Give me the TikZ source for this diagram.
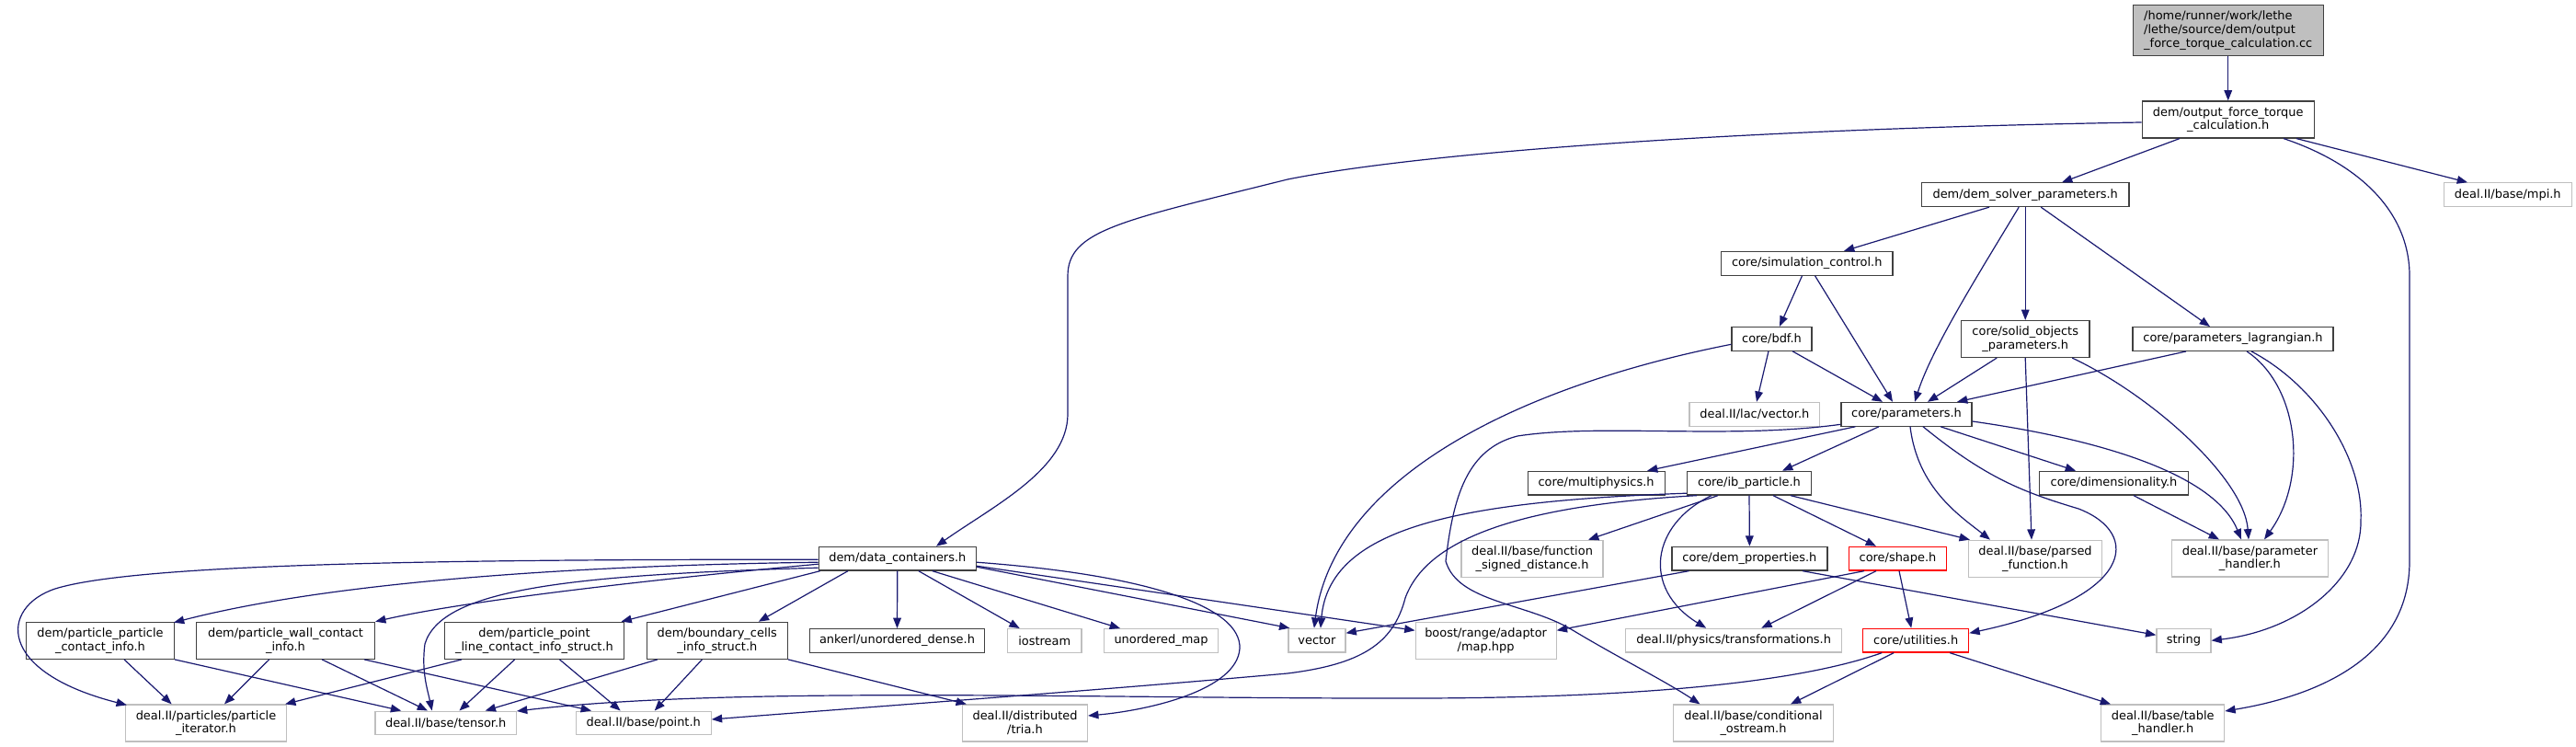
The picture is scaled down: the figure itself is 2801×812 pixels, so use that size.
\documentclass[tikz,border=0pt]{standalone}
\usepackage{fontspec}
\setmainfont{DejaVu Sans}
\usetikzlibrary{arrows.meta,calc}
\definecolor{edgec}{HTML}{191970}
\definecolor{dk}{HTML}{404040}
\definecolor{lt}{HTML}{BFBFBF}
\tikzset{
 nd/.style={draw=dk, line width=0.9pt, fill=white, inner sep=0pt, align=center, font=\fontsize{9.7}{11}\selectfont, text=black, minimum height=19.3pt},
 ext/.style={nd, draw=lt},
 trunc/.style={nd, draw=red},
 rootnd/.style={nd, fill=lt, align=left},
 two/.style={minimum height=30pt},
 ed/.style={draw=edgec, line width=0.9pt, -{Triangle[length=8.5pt,width=6.5pt]}},
}
\begin{document}
\begin{tikzpicture}[x=0.75pt,y=-0.75pt]
\fill[white] (0,0) rectangle (2801,812);
\path[use as bounding box] (0,0) rectangle (2801,812);

% nodes
\node[rootnd, minimum width=155.25pt, minimum height=41.25pt] (root) at (2422.7,33.2) {/home/runner/work/lethe\\/lethe/source/dem/output\\\_force\_torque\_calculation.cc};
\node[nd, two, minimum width=140.25pt] (oftc) at (2422.7,130) {dem/output\_force\_torque\\\_calculation.h};
\node[ext, minimum width=104.25pt] (mpi) at (2726.8,211.7) {deal.II/base/mpi.h};
\node[nd, minimum width=169.2pt] (solver) at (2202.2,211.7) {dem/dem\_solver\_parameters.h};
\node[nd, minimum width=140pt] (simctl) at (1964.7,286.3) {core/simulation\_control.h};
\node[nd, minimum width=65.25pt] (bdf) at (1926.5,368.3) {core/bdf.h};
\node[nd, two, minimum width=104.6pt] (solid) at (2202.2,368.5) {core/solid\_objects\\\_parameters.h};
\node[nd, minimum width=163.5pt] (lagr) at (2428,368.5) {core/parameters\_lagrangian.h};
\node[nd, minimum width=106.5pt] (params) at (2073,450.3) {core/parameters.h};
\node[ext, minimum width=106.1pt] (lacvec) at (1907.8,450.3) {deal.II/lac/vector.h};
\node[nd, minimum width=111.75pt] (multiphys) at (1735.6,525.2) {core/multiphysics.h};
\node[nd, minimum width=101.25pt] (ibp) at (1902,525.2) {core/ib\_particle.h};
\node[nd, minimum width=121.3pt] (dimen) at (2298.5,525.2) {core/dimensionality.h};
\node[ext, two, minimum width=115.5pt] (fsd) at (1666,607.3) {deal.II/base/function\\\_signed\_distance.h};
\node[nd, minimum width=126.75pt] (demprop) at (1902.4,607.2) {core/dem\_properties.h};
\node[trunc, minimum width=79.5pt] (shape) at (2063.5,607.2) {core/shape.h};
\node[ext, two, minimum width=108.75pt] (parsed) at (2213,607.3) {deal.II/base/parsed\\\_function.h};
\node[ext, two, minimum width=127.5pt] (paramh) at (2446.4,607) {deal.II/base/parameter\\\_handler.h};
\node[ext, minimum width=46.5pt] (vector) at (1431.9,696.2) {vector};
\node[ext, two, minimum width=114.75pt] (boost) at (1615.6,696.3) {boost/range/adaptor\\/map.hpp};
\node[ext, minimum width=176.25pt] (transf) at (1885.2,696.2) {deal.II/physics/transformations.h};
\node[trunc, minimum width=86.25pt] (util) at (2083.2,696.2) {core/utilities.h};
\node[ext, minimum width=44.25pt] (string) at (2374.4,696.3) {string};
\node[ext, two, minimum width=130.1pt] (condos) at (1906.5,786) {deal.II/base/conditional\\\_ostream.h};
\node[ext, two, minimum width=100.5pt] (table) at (2351.7,786) {deal.II/base/table\\\_handler.h};
\node[nd, minimum width=128.25pt] (datac) at (975.8,607.2) {dem/data\_containers.h};
\node[nd, two, minimum width=120.5pt] (pp) at (109,696.3) {dem/particle\_particle\\\_contact\_info.h};
\node[nd, two, minimum width=145.5pt] (pw) at (310.5,696.3) {dem/particle\_wall\_contact\\\_info.h};
\node[nd, two, minimum width=146.8pt] (ppl) at (581,696.3) {dem/particle\_point\\\_line\_contact\_info\_struct.h};
\node[nd, two, minimum width=114.75pt] (bc) at (779.8,696.3) {dem/boundary\_cells\\\_info\_struct.h};
\node[nd, minimum width=142.5pt] (ankerl) at (975.5,696.5) {ankerl/unordered\_dense.h};
\node[ext, minimum width=60.5pt] (iostream) at (1135.7,696.5) {iostream};
\node[ext, minimum width=93pt] (umap) at (1262.5,696.5) {unordered\_map};
\node[ext, two, minimum width=131.25pt] (piter) at (224,786) {deal.II/particles/particle\\\_iterator.h};
\node[ext, minimum width=115pt] (tensor) at (484.7,786) {deal.II/base/tensor.h};
\node[ext, minimum width=110.25pt] (point) at (699.7,786) {deal.II/base/point.h};
\node[ext, two, minimum width=102pt] (tria) at (1114.5,786) {deal.II/distributed\\/tria.h};

% edges
\draw[ed] (root.south) -- (oftc.north);
\draw[ed] ($(oftc.south)+(-52.7,0)$) -- ($(solver.north)+(39.8,0)$);
\draw[ed] ($(oftc.south)+(74.3,0)$) -- ($(mpi.north)+(-43.8,0)$);
\draw[ed] ($(oftc.south)+(60.3,0)$) .. controls (2565,178) and (2620,230) .. (2620,300) -- (2620,610) .. controls (2620,720) and (2510,758) .. ($(table.east)+(0,-13)$);
\draw[ed] ($(oftc.west)+(0,3)$) .. controls (1900,140) and (1550,165) .. (1400,195) .. controls (1220,240) and (1161,250) .. (1161,300) -- (1161,450) .. controls (1161,510) and (1080,550) .. ($(datac.north)+(42.2,0)$);
\draw[ed] ($(solver.south)+(-39.2,0)$) -- ($(simctl.north)+(40.3,0)$);
\draw[ed] ($(solver.south)+(-7,0)$) .. controls (2150,300) and (2100,380) .. ($(params.north)+(9,0)$);
\draw[ed] (solver.south) -- (solid.north);
\draw[ed] ($(solver.south)+(17,0)$) -- ($(lagr.north)+(-25,0)$);
\draw[ed] ($(simctl.south)+(-5.2,0)$) -- ($(bdf.north)+(8.5,0)$);
\draw[ed] ($(simctl.south)+(8.8,0)$) -- ($(params.north)+(-15,0)$);
\draw[ed] ($(bdf.south)+(-3.5,0)$) -- ($(lacvec.north)+(2.2,0)$);
\draw[ed] ($(bdf.south)+(22.5,0)$) -- ($(params.north)+(-26,0)$);
\draw[ed] ($(bdf.west)+(0,6)$) .. controls (1650,420) and (1450,520) .. ($(vector.north)+(-3,0)$);
\draw[ed] ($(solid.south)+(-31,0)$) -- ($(params.north)+(23,0)$);
\draw[ed] (solid.south) -- ($(parsed.north)+(-4,0)$);
\draw[ed] ($(solid.south)+(51,0)$) .. controls (2340,430) and (2440,520) .. ($(paramh.north)+(-1.4,0)$);
\draw[ed] ($(lagr.south)+(-51,0)$) -- ($(params.north)+(55,0)$);
\draw[ed] ($(lagr.south)+(15,0)$) .. controls (2500,420) and (2510,520) .. ($(paramh.north)+(15.6,0)$);
\draw[ed] ($(lagr.south)+(20,0)$) .. controls (2520,420) and (2570,500) .. (2567,566) .. controls (2568,630) and (2500,685) .. (string.east);
\draw[ed] ($(params.south)+(-55.5,0)$) -- ($(multiphys.north)+(55.4,0)$);
\draw[ed] ($(params.south)+(-30,0)$) -- ($(ibp.north)+(36,0)$);
\draw[ed] ($(params.south)+(4,0)$) .. controls (2085,530) and (2130,560) .. ($(parsed.north)+(-49,0)$);
\draw[ed] ($(params.south)+(18,0)$) .. controls (2160,520) and (2200,535) .. (2260,553) .. controls (2330,580) and (2320,650) .. ($(util.east)+(0,-8)$);
\draw[ed] ($(params.south)+(37,0)$) -- ($(dimen.north)+(-41.5,0)$);
\draw[ed] ($(params.east)+(0,7.7)$) .. controls (2300,480) and (2410,520) .. ($(paramh.north)+(-9.4,0)$);
\draw[ed] ($(params.west)+(0,11)$) .. controls (1880,478) and (1740,460) .. (1650,474) .. controls (1595,488) and (1580,540) .. (1572,610) .. controls (1585,655) and (1660,655) .. (1710,685) .. controls (1760,715) and (1810,740) .. ($(condos.north)+(-58,0)$);
\draw[ed] ($(dimen.south)+(21.5,0)$) -- ($(paramh.north)+(-33.4,0)$);
\draw[ed] ($(ibp.west)+(0,11)$) .. controls (1580,545) and (1445,575) .. ($(vector.north)+(4,0)$);
\draw[ed] ($(ibp.south)+(-57,0)$) .. controls (1640,550) and (1550,590) .. (1528,650) .. controls (1515,700) and (1480,722) .. (1400,732) .. controls (1200,750) and (900,772) .. ($(point.east)+(0,-4)$);
\draw[ed] ($(ibp.south)+(-34,0)$) -- ($(fsd.north)+(61,0)$);
\draw[ed] ($(ibp.south)+(-41,0)$) .. controls (1795,570) and (1785,640) .. ($(transf.north)+(-30,0)$);
\draw[ed] (ibp.south) -- (demprop.north);
\draw[ed] ($(ibp.south)+(26,0)$) -- ($(shape.north)+(-23.5,0)$);
\draw[ed] ($(ibp.south)+(45,0)$) -- ($(parsed.north west)+(2,0)$);
\draw[ed] ($(demprop.south)+(-66,0)$) -- ($(vector.east)+(0,-8)$);
\draw[ed] ($(demprop.south)+(57.6,0)$) -- ($(string.west)+(0,-6)$);
\draw[ed] ($(shape.south)+(-36.5,0)$) -- ($(boost.east)+(0,-11)$);
\draw[ed] ($(shape.south)+(-23.5,0)$) -- ($(transf.north)+(30,0)$);
\draw[ed] ($(shape.south)+(1.5,0)$) -- ($(util.north)+(-5,0)$);
\draw[ed] ($(util.south)+(-24,0)$) -- ($(condos.north)+(40.5,0)$);
\draw[ed] ($(util.south)+(37,0)$) -- ($(table.north)+(-56.7,0)$);
\draw[ed] ($(util.south)+(-37,0)$) .. controls (1960,740) and (1800,758) .. (1550,759) .. controls (1200,760) and (800,745) .. ($(tensor.east)+(0,-13)$);
\draw[ed] ($(datac.west)+(0,1)$) .. controls (500,608) and (150,612) .. (60,640) .. controls (0,660) and (-5,730) .. ($(piter.north west)+(2,1)$);
\draw[ed] ($(datac.west)+(0,4)$) .. controls (600,615) and (350,635) .. ($(pp.north east)+(-1,1)$);
\draw[ed] ($(datac.west)+(0,6)$) .. controls (760,625) and (520,650) .. (pw.north east);
\draw[ed] ($(datac.west)+(0,10)$) .. controls (620,625) and (480,640) .. (462,700) .. controls (458,730) and (465,750) .. ($(tensor.north)+(-15,0)$);
\draw[ed] ($(datac.south west)+(2,0)$) -- ($(ppl.north east)+(-4,0)$);
\draw[ed] ($(datac.south)+(-53.8,0)$) -- ($(bc.north)+(45,0)$);
\draw[ed] (datac.south) -- (ankerl.north);
\draw[ed] ($(datac.south)+(23,0)$) -- ($(iostream.north)+(-27,0)$);
\draw[ed] ($(datac.south)+(38,0)$) -- ($(umap.north)+(-44.5,0)$);
\draw[ed] ($(datac.east)+(0,9)$) -- ($(vector.north west)+(2,0)$);
\draw[ed] ($(datac.east)+(0,8)$) -- ($(boost.west)+(0,-11)$);
\draw[ed] ($(datac.east)+(0,4)$) .. controls (1250,625) and (1350,660) .. (1348,705) .. controls (1345,750) and (1250,772) .. ($(tria.east)+(0,-8)$);
\draw[ed] ($(bc.south)+(-65,0)$) -- ($(tensor.north)+(43,0)$);
\draw[ed] ($(bc.south)+(-16.4,0)$) -- ($(point.north)+(12,0)$);
\draw[ed] (bc.south east) -- ($(tria.north west)+(5,0)$);
\draw[ed] ($(pp.south)+(26,0)$) -- ($(piter.north)+(-37.4,0)$);
\draw[ed] (pp.south east) -- ($(tensor.north)+(-48.5,0)$);
\draw[ed] ($(pw.south)+(-17.8,0)$) -- ($(piter.north)+(20,0)$);
\draw[ed] ($(pw.south)+(39.6,0)$) -- ($(tensor.north)+(-19.7,0)$);
\draw[ed] ($(pw.south)+(85.5,0)$) -- ($(point.north)+(-56.7,0)$);
\draw[ed] ($(ppl.south)+(-79,0)$) -- ($(piter.north east)+(-2,0)$);
\draw[ed] ($(ppl.south)+(-21.3,0)$) -- ($(tensor.north)+(14.7,0)$);
\draw[ed] ($(ppl.south)+(27.5,0)$) -- ($(point.north)+(-25,0)$);
\end{tikzpicture}
\end{document}
